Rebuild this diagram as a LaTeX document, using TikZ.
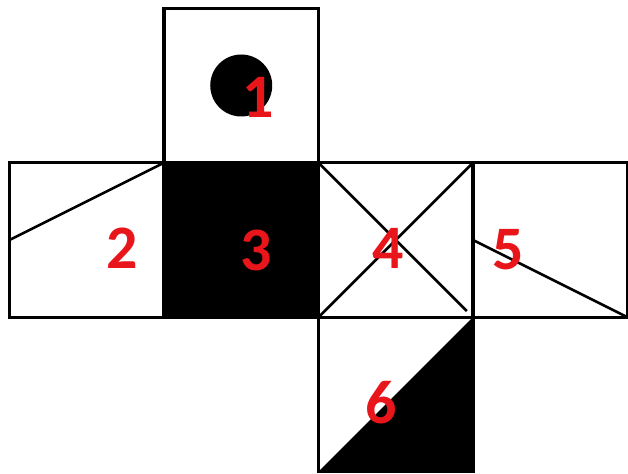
\documentclass[tikz,border=0pt]{standalone}
\usepackage{fontspec}
\setmainfont{Carlito}
\definecolor{NumRed}{HTML}{E8161B}
\usetikzlibrary{positioning,calc}
\tikzset{
  face/.style={draw, line width=2.3pt, minimum size=3.8625cm, inner sep=0pt, outer sep=0pt},
  crease/.style={line width=1.9pt},
  numlabel/.style={text=NumRed, font=\fontsize{44}{44}\selectfont\bfseries, inner sep=0pt},
}

\begin{document}
\begin{tikzpicture}[node distance=0pt]
      \useasboundingbox (0,0) rectangle (15.7,11.825);
      % faces of the net
      \node[face, fill=black] (f3) at (6.031,5.825) {};
      \node[face, above=of f3] (f1) {};
      \node[face, left=of f3] (f2) {};
      \node[face, right=of f3] (f4) {};
      \node[face, right=of f4] (f5) {};
      \node[face, below=of f4] (f6) {};
      % markings
      \fill (f1.center) circle (0.775cm);
      \draw[crease] (f2.north east) -- (f2.west);
      \coordinate (c4) at ($(f4.north west)!0.96!(f4.south east)$);
      \draw[crease] (f4.north west) -- (c4);
      \draw[crease] (f4.south west) -- (f4.north east);
      \draw[crease] (f5.west) -- (f5.south east);
      \fill (f6.south west) -- (f6.north east) -- (f6.south east) -- cycle;
      % numbers
      \node[numlabel] (l1) at ($(f1.center)+(0.43,-0.3)$) {1};
      \node[numlabel] (l2) at ($(f2.center)+(0.88,-0.2)$) {2};
      \node[numlabel] (l3) at ($(f3.center)+(0.37,-0.25)$) {3};
      \node[numlabel] (l4) at ($(f4.center)+(-0.2,-0.2)$) {4};
      \node[numlabel] (l5) at ($(f5.center)+(-1.05,-0.25)$) {5};
      \node[numlabel] (l6) at ($(f6.center)+(-0.37,-0.2)$) {6};
    \end{tikzpicture}
\end{document}
